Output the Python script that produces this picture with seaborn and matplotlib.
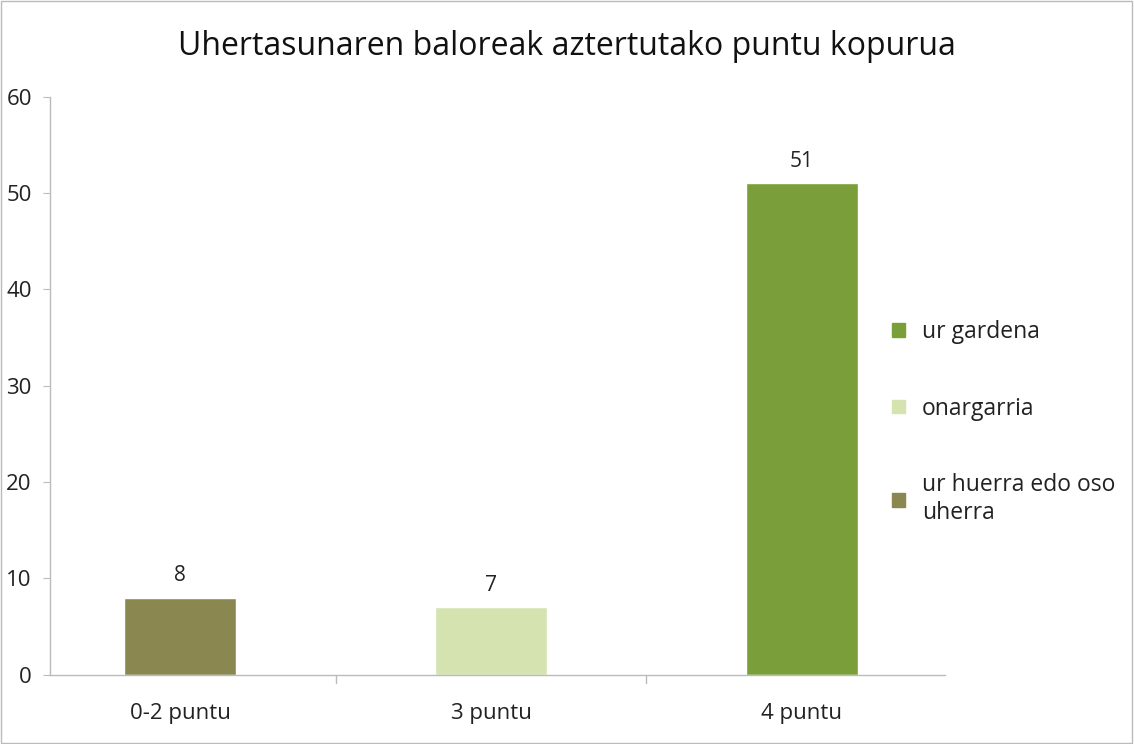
import matplotlib
matplotlib.use("Agg")
import matplotlib.pyplot as plt
import seaborn as sns
import pandas as pd
from matplotlib.patches import Rectangle

# data
categories = ["0-2 puntu", "3 puntu", "4 puntu"]
values = [8, 7, 51]
groups = ["ur huerra edo oso uherra", "onargarria", "ur gardena"]
legend_order = ["ur gardena", "onargarria", "ur huerra edo oso uherra"]
colors = {"ur huerra edo oso uherra": "#8a8850",
          "onargarria": "#d5e3b1",
          "ur gardena": "#7a9f3a"}
title = "Uhertasunaren baloreak aztertutako puntu kopurua"

df = pd.DataFrame({"puntu": categories, "kopurua": values, "taldea": groups})

sns.set_style("white")
plt.rcParams["font.family"] = ["Open Sans", "DejaVu Sans"]

fig = plt.figure(figsize=(11.34, 7.44), dpi=100)
ax = fig.add_axes([0.044, 0.093, 0.789, 0.777])

sns.barplot(data=df, x="puntu", y="kopurua", hue="taldea", palette=colors,
            dodge=False, width=0.36, ax=ax, legend=False, saturation=1)

# value labels above bars
for p, v in zip(ax.patches, values):
    ax.text(p.get_x() + p.get_width() / 2, v + 1.2, str(v),
            ha="center", va="bottom", fontsize=15, color="#222222")

ax.set_ylim(0, 60)
ax.set_yticks(range(0, 61, 10))
ax.set_xlim(-0.42, 2.46)
ax.set_xlabel("")
ax.set_ylabel("")
ax.tick_params(axis="y", labelsize=16, length=5, color="#bbbbbb", pad=8,
               labelcolor="#222222", direction="out", left=True)
ax.tick_params(axis="x", labelsize=16, length=0, pad=20, labelcolor="#222222")
for b in [0.5, 1.5]:
    ax.plot([b, b], [0, -0.9], color="#bbbbbb", lw=1, clip_on=False)

for s in ["top", "right"]:
    ax.spines[s].set_visible(False)
for s in ["left", "bottom"]:
    ax.spines[s].set_color("#bbbbbb")
    ax.spines[s].set_linewidth(1)

handles = [Rectangle((0, 0), 1, 1, color=colors[g]) for g in legend_order]
labels = ["ur gardena", "onargarria", "ur huerra edo oso\nuherra"]
fig.legend(handles, labels, loc="upper left", bbox_to_anchor=(0.787, 0.57),
           frameon=False, fontsize=16.5, handlelength=0.55, handleheight=0.55,
           handletextpad=0.75, labelspacing=2.3, borderpad=0, borderaxespad=0,
           labelcolor="#222222")

fig.text(0.5, 0.937, title, ha="center", va="center", fontsize=23, color="#111111")

fig.patches.append(Rectangle((0.001, 0.001), 0.997, 0.997, transform=fig.transFigure,
                             fill=False, edgecolor="#bbbbbb", lw=1))

fig.savefig("out.png", dpi=100)
